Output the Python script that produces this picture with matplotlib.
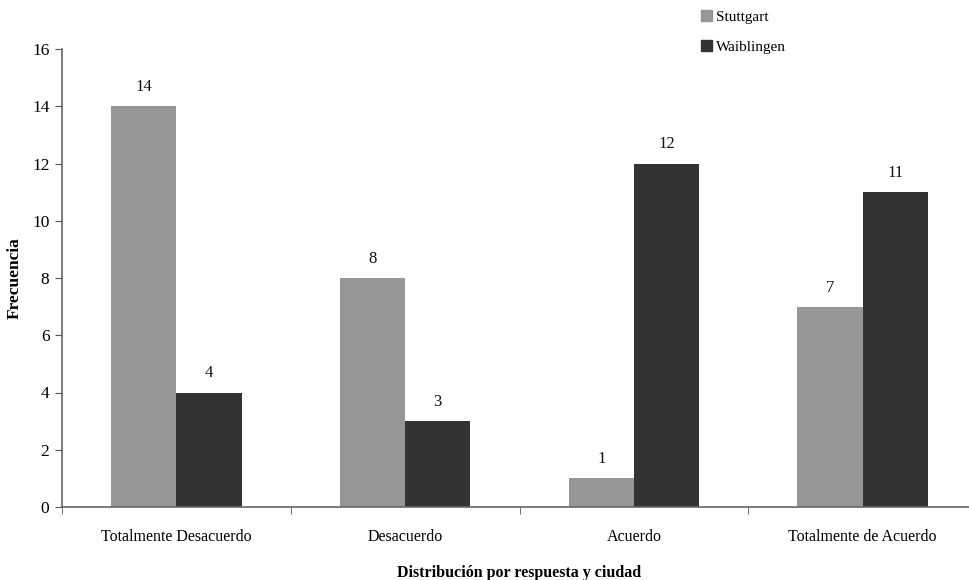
import numpy as np
import matplotlib
matplotlib.use("Agg")
import matplotlib.pyplot as plt
from matplotlib.patches import Patch

plt.rcParams["font.family"] = ["Liberation Serif", "DejaVu Serif"]

categories = ["Totalmente Desacuerdo", "Desacuerdo", "Acuerdo", "Totalmente de Acuerdo"]
stuttgart = [14, 8, 1, 7]
waiblingen = [4, 3, 12, 11]
series_names = ["Stuttgart", "Waiblingen"]
colors = ["#969696", "#333333"]

W, H = 969, 580
fig = plt.figure(figsize=(W / 100, H / 100), dpi=100)
# axes box in pixels: left 62, right 977 (runs past the edge), top 49, bottom 507
ax = fig.add_axes([62 / W, (H - 507) / H, (977 - 62) / W, (507 - 49) / H])

x = np.arange(len(categories))
bw = 0.285
b1 = ax.bar(x - bw / 2, stuttgart, bw, color=colors[0])
b2 = ax.bar(x + bw / 2, waiblingen, bw, color=colors[1])

for bars, vals in ((b1, stuttgart), (b2, waiblingen)):
    for r, v in zip(bars, vals):
        ax.annotate(str(v), (r.get_x() + r.get_width() / 2, v),
                    xytext=(0, 8), textcoords="offset points",
                    ha="center", va="bottom", fontsize=12, color="#111111")

ax.set_xlim(-0.5, len(categories) - 0.5)
ax.set_ylim(0, 16)
ax.set_yticks(range(0, 17, 2))
ax.set_xticks(x)
ax.set_xticklabels(categories, fontsize=11.5)
ax.set_xticks(np.arange(len(categories) + 1) - 0.5, minor=True)
ax.tick_params(axis="x", which="major", length=0, pad=16)
ax.tick_params(axis="x", which="minor", length=5, color="#555555")
ax.tick_params(axis="y", labelsize=12.5, length=5, color="#555555", pad=4)

for s in ("top", "right"):
    ax.spines[s].set_visible(False)
for s in ("left", "bottom"):
    ax.spines[s].set_color("#666666")
    ax.spines[s].set_linewidth(1.2)

ax.set_ylabel("Frecuencia", fontsize=12.5, fontweight="bold", labelpad=7)
ax.set_xlabel("Distribución por respuesta y ciudad", fontsize=11.5, fontweight="bold", labelpad=14)

handles = [Patch(color=c) for c in colors]
fig.legend(handles, series_names, loc="upper left", bbox_to_anchor=(701 / W, 1 - 10 / H),
           frameon=False, fontsize=11, handlelength=0.72, handleheight=0.72,
           handletextpad=0.26, labelspacing=1.05, borderpad=0, borderaxespad=0)

fig.savefig("out.png", dpi=100)
